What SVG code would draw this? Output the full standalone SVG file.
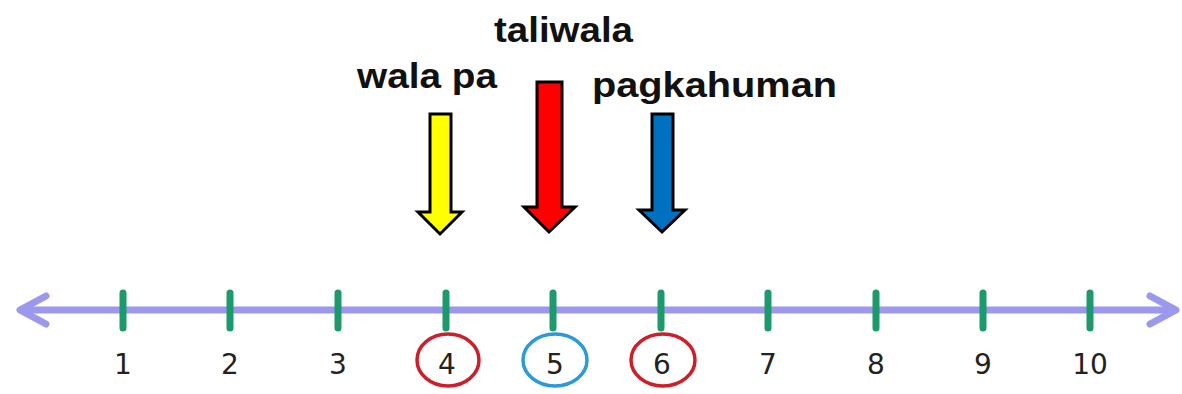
<svg xmlns="http://www.w3.org/2000/svg" width="1182" height="394" viewBox="0 0 1182 394">
<style>
.lbl{font-family:"Liberation Sans",Arial,sans-serif;font-weight:bold;font-size:35px;fill:#111}
.num{font-family:"DejaVu Sans",Verdana,sans-serif;font-size:28px;fill:#222;text-anchor:middle}
.tick{stroke:#1c9a6c;stroke-width:7;stroke-linecap:round}
.arr{stroke:#000;stroke-width:3;stroke-linejoin:miter}
.ring{fill:none;stroke-width:3.5}
</style>
<rect width="1182" height="394" fill="#fff"/>
<g id="numberline">
<line x1="22" y1="310" x2="1174" y2="310" stroke="#9b98ee" stroke-width="7"/>
<polyline points="46,296 20,310 46,324" fill="none" stroke="#9b98ee" stroke-width="7" stroke-linecap="round" stroke-linejoin="round"/>
<polyline points="1150,296 1176,310 1150,324" fill="none" stroke="#9b98ee" stroke-width="7" stroke-linecap="round" stroke-linejoin="round"/>
<g>
<line class="tick" x1="123" y1="293" x2="123" y2="328"/>
<line class="tick" x1="230" y1="293" x2="230" y2="328"/>
<line class="tick" x1="338" y1="293" x2="338" y2="328"/>
<line class="tick" x1="446" y1="293" x2="446" y2="328"/>
<line class="tick" x1="553" y1="293" x2="553" y2="328"/>
<line class="tick" x1="661" y1="293" x2="661" y2="328"/>
<line class="tick" x1="768" y1="293" x2="768" y2="328"/>
<line class="tick" x1="876" y1="293" x2="876" y2="328"/>
<line class="tick" x1="983" y1="293" x2="983" y2="328"/>
<line class="tick" x1="1090" y1="293" x2="1090" y2="328"/>
</g>
<g>
<text class="num" x="123" y="374">1</text>
<text class="num" x="230" y="374">2</text>
<text class="num" x="338" y="374">3</text>
<text class="num" x="447" y="374">4</text>
<text class="num" x="555" y="374">5</text>
<text class="num" x="662" y="374">6</text>
<text class="num" x="768" y="374">7</text>
<text class="num" x="876" y="374">8</text>
<text class="num" x="983" y="374">9</text>
<text class="num" x="1090" y="374">10</text>
</g>
</g>
<g id="circle4"><ellipse class="ring" cx="448" cy="360" rx="31" ry="26" stroke="#cc1f2a"/></g>
<g id="circle5"><ellipse class="ring" cx="555" cy="360" rx="32" ry="26" stroke="#2b9ad8"/></g>
<g id="circle6"><ellipse class="ring" cx="663" cy="360" rx="32" ry="26" stroke="#cc1f2a"/></g>
<g id="wala-pa">
<text class="lbl" x="357" y="88" textLength="140" lengthAdjust="spacingAndGlyphs">wala pa</text>
<polygon class="arr" fill="#ffff00" points="430,114 451,114 451,212 462,212 440,234 418,212 430,212"/>
</g>
<g id="taliwala">
<text class="lbl" x="494" y="42" textLength="139" lengthAdjust="spacingAndGlyphs">taliwala</text>
<polygon class="arr" fill="#ff0000" points="537,82 562,82 562,207 575,207 549,232 524,207 537,207"/>
</g>
<g id="pagkahuman">
<text class="lbl" x="592" y="97" textLength="245" lengthAdjust="spacingAndGlyphs">pagkahuman</text>
<polygon class="arr" fill="#0070c0" points="652,114 673,114 673,210 685,210 662,232 639,210 652,210"/>
</g>
</svg>
